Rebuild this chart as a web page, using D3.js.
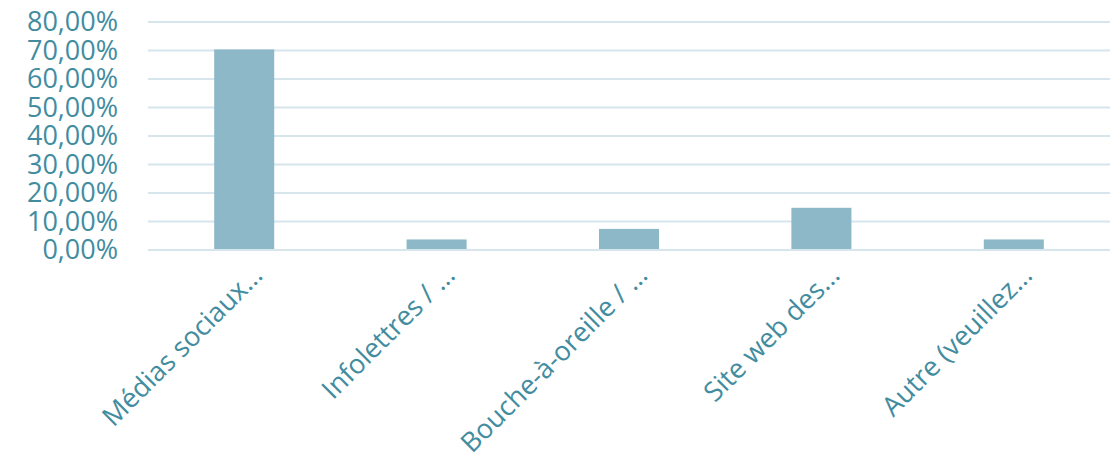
<!DOCTYPE html>
<html>
<head>
<meta charset="utf-8">
<script src="https://cdn.jsdelivr.net/npm/d3@7"></script>
<style>
  body { margin: 0; background: #fff; }
  text { font-family: "Open Sans", sans-serif; }
</style>
</head>
<body>
<div id="chart"></div>
<script>
// Response shares per channel (percent)
const categories = [
  "Médias sociaux…",
  "Infolettres / …",
  "Bouche-à-oreille / …",
  "Site web des…",
  "Autre (veuillez…"
];
const values = [70.37, 3.70, 7.41, 14.81, 3.70];
const yTicks = [0, 10, 20, 30, 40, 50, 60, 70, 80];

const W = 1114, H = 454;
const plot = { left: 148, right: 1110, top: 22, bottom: 250 };

const textColor = "rgb(66,140,160)";
const barColor  = "rgb(141,184,199)";
const gridColor = "rgb(214,230,236)";

const svg = d3.select("#chart").append("svg")
  .attr("width", W).attr("height", H);

const x = d3.scaleBand()
  .domain(categories)
  .range([plot.left, plot.right])
  .paddingInner(0.688)
  .paddingOuter(0.344);

const y = d3.scaleLinear()
  .domain([0, 80])
  .range([plot.bottom, plot.top]);

const fmt = d => d3.format(".2f")(d).replace(".", ",") + "%";

// gridlines
svg.append("g")
  .selectAll("line")
  .data(yTicks)
  .join("line")
    .attr("x1", plot.left).attr("x2", plot.right)
    .attr("y1", d => y(d)).attr("y2", d => y(d))
    .attr("stroke", gridColor)
    .attr("stroke-width", 2);

// y axis labels
const yAxis = svg.append("g")
  .attr("transform", `translate(${plot.left},0)`)
  .call(d3.axisLeft(y).tickValues(yTicks).tickSize(0).tickPadding(30).tickFormat(fmt));
yAxis.select(".domain").remove();
yAxis.selectAll("text")
  .attr("fill", textColor)
  .style("font-size", "27px")
  .style("font-family", "'Open Sans', sans-serif");

// bars
svg.append("g")
  .selectAll("rect")
  .data(values)
  .join("rect")
    .attr("x", (d, i) => x(categories[i]))
    .attr("y", d => y(d))
    .attr("width", x.bandwidth())
    .attr("height", d => y(0) - y(d) - 1)
    .attr("fill", barColor);

// category labels, rotated
svg.append("g")
  .selectAll("text")
  .data(categories)
  .join("text")
    .attr("transform", d => `translate(${x(d) + x.bandwidth() / 2 + 20},277) rotate(-45)`)
    .attr("text-anchor", "end")
    .attr("fill", textColor)
    .style("font-size", "27px")
    .text(d => d);
</script>
</body>
</html>
